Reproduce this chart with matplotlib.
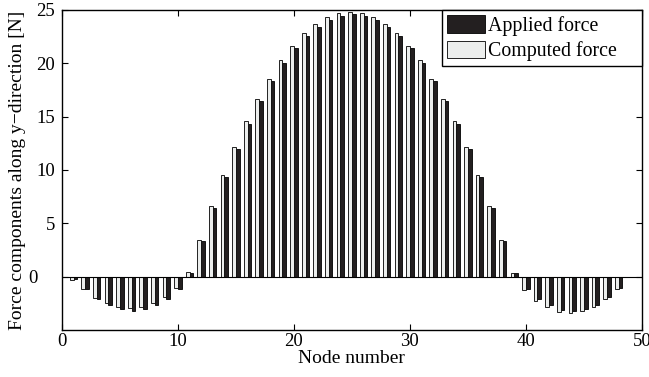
import numpy as np
import matplotlib
matplotlib.use('Agg')
import matplotlib.pyplot as plt
from matplotlib.transforms import ScaledTranslation

# node numbers and force values
nodes = list(range(1, 49))
computed = [-0.3, -1.15, -2.0, -2.5, -2.85, -2.95, -2.85, -2.5, -1.95, -1.05,
            0.4, 3.45, 6.6, 9.5, 12.2, 14.55, 16.7, 18.55, 20.3, 21.65,
            22.8, 23.7, 24.3, 24.7, 24.8, 24.7, 24.3, 23.7, 22.8, 21.65,
            20.3, 18.55, 16.7, 14.55, 12.2, 9.5, 6.6, 3.45, 0.3, -1.25,
            -2.25, -2.85, -3.3, -3.4, -3.2, -2.8, -2.05, -1.15]
applied = [-0.2, -1.2, -2.05, -2.65, -3.05, -3.2, -3.05, -2.7, -2.1, -1.15,
           0.3, 3.35, 6.45, 9.3, 12.0, 14.35, 16.5, 18.35, 20.05, 21.4,
           22.55, 23.45, 24.05, 24.45, 24.6, 24.45, 24.05, 23.45, 22.55, 21.4,
           20.05, 18.35, 16.5, 14.35, 12.0, 9.3, 6.45, 3.35, 0.35, -1.2,
           -2.1, -2.7, -3.15, -3.25, -3.05, -2.65, -1.95, -1.1]
xticks = [0, 10, 20, 30, 40, 50]
yticks = [0, 5, 10, 15, 20, 25]

plt.rcParams['font.family'] = ['Liberation Serif', 'DejaVu Serif']

fig = plt.figure(figsize=(6.49, 3.77), dpi=100)
ax = fig.add_axes([0.0955, 0.1247, 0.8935, 0.8488])

x = np.array(nodes)
w = 0.32
ax.bar(x + w / 2, applied, width=w, color='#231f20', edgecolor='black',
       linewidth=0.6, label='Applied force', zorder=2)
ax.bar(x - w / 2, computed, width=w, color='#eceeed', edgecolor='black',
       linewidth=0.6, label='Computed force', zorder=3)
ax.axhline(0, color='black', linewidth=0.8, zorder=4)

ax.set_xlim(0, 50)
ax.set_ylim(-5, 25)
ax.set_xticks(xticks)
ax.set_yticks(yticks)
ax.tick_params(direction='in', top=True, right=True, labelsize=13.5, length=4, width=0.8)
ax.tick_params(axis='y', pad=5)
ax.tick_params(axis='x', pad=2)
for s in ax.spines.values():
    s.set_linewidth(1.0)

# the "0" label sits further left in the original
lab0 = ax.get_yticklabels()[0]
lab0.set_transform(lab0.get_transform() + ScaledTranslation(-0.17, 0, fig.dpi_scale_trans))

ax.set_xlabel('Node number', fontsize=14, labelpad=0)
ax.set_ylabel('Force components along y\u2212direction [N]', fontsize=14)
ax.yaxis.set_label_coords(-0.062, 0.5)

# legend box spans roughly x 442..640 px, y 10..66 px
leg = ax.legend(loc='upper right', bbox_to_anchor=(0.655, 0.0, 0.345, 1.0),
                mode='expand', fontsize=14.3, frameon=True, fancybox=False,
                edgecolor='black', framealpha=1, borderaxespad=0.0,
                handlelength=1.9, handleheight=1.0, handletextpad=0.2,
                borderpad=0.25, labelspacing=0.25)
leg.get_frame().set_linewidth(1.0)

fig.savefig('out.png', dpi=100)
